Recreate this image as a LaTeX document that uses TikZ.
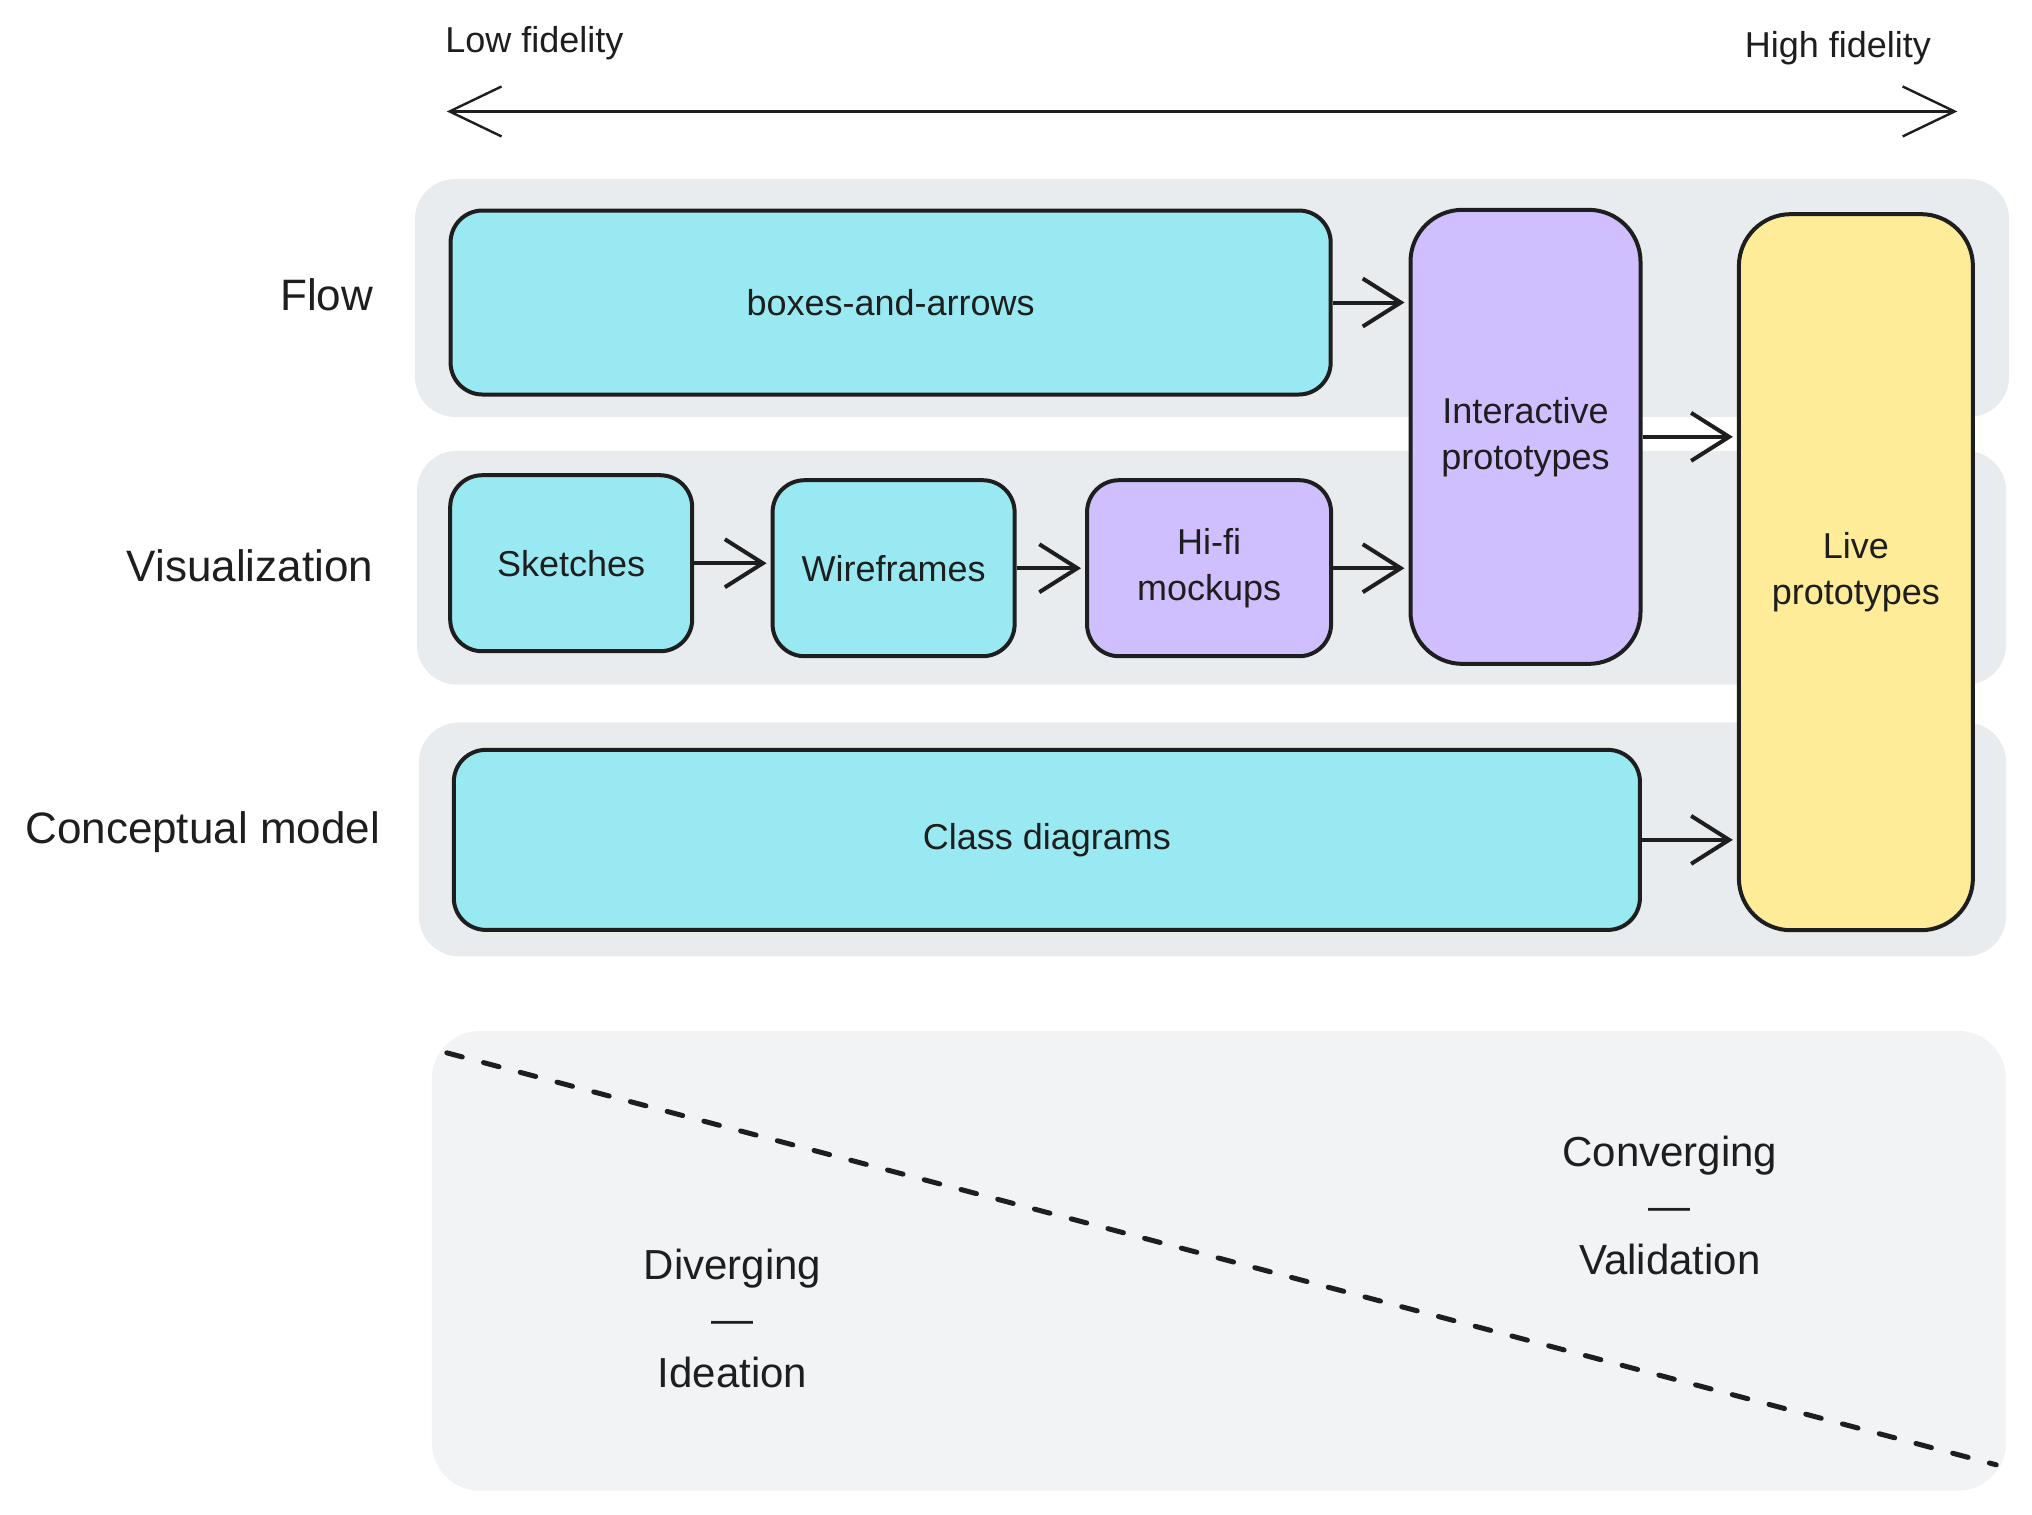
\documentclass[tikz,border=0pt]{standalone}
\usepackage{fontspec}
\setmainfont{Liberation Sans}
\usetikzlibrary{arrows.meta}
\definecolor{ink}{HTML}{1E1E1E}
\definecolor{cyanbox}{HTML}{99E9F2}
\definecolor{violetbox}{HTML}{D0BFFF}
\definecolor{yellowbox}{HTML}{FFEC99}
\definecolor{bandgray}{HTML}{E9ECEF}
\definecolor{areagray}{HTML}{F1F3F5}
\tikzset{
  stage/.style={draw=ink, line width=2pt, rounded corners=16pt, align=center,
    text=ink, inner sep=0pt, font=\fontsize{18}{23}\selectfont},
  rowlabel/.style={anchor=east, text=ink, font=\fontsize{22}{26}\selectfont},
  phase/.style={align=center, text=ink, font=\fontsize{21}{27}\selectfont},
  band/.style={fill=bandgray, rounded corners=20pt},
  flowarrow/.style={draw=ink, line width=2pt, shorten >=2pt,
    -{Straight Barb[length=19pt,width=24pt]}},
}
\begin{document}
\begin{tikzpicture}[x=0.4975pt,y=-0.4975pt]
  \useasboundingbox (0,0) rectangle (2042,1522);
  % background bands
  \fill[band] (417,180) rectangle (2019,419);
  \fill[band] (419,453) rectangle (2016,688);
  \fill[band] (421,726) rectangle (2016,961);
  \fill[areagray, rounded corners=24pt] (434,1036) rectangle (2016,1498);

  % fidelity axis
  \node[text=ink, font=\fontsize{18}{22}\selectfont] (low) at (537,43) {Low fidelity};
  \node[text=ink, font=\fontsize{18}{22}\selectfont] (high) at (1847,48) {High fidelity};
  \coordinate (lowend) at (449,112);
  \coordinate (highend) at (1967,112);
  \draw[ink, line width=1.2pt, {Straight Barb[length=26pt,width=25pt]}-{Straight Barb[length=26pt,width=25pt]}] (lowend) -- (highend);

  % row labels
  \foreach \x/\y/\name/\txt in {382/296/flow/Flow, 382/569/vis/Visualization, 389/836/concept/Conceptual model}
    \node[rowlabel] (\name) at (\x,\y) {\txt};

  % stages
  \node[stage, fill=cyanbox, minimum width=440pt, minimum height=92pt] (bna) at (895,304) {boxes-and-arrows};
  \node[stage, fill=violetbox, rounded corners=26pt, minimum width=115pt, minimum height=227pt] (inter) at (1533,439) {Interactive\\prototypes};
  \node[stage, fill=yellowbox, rounded corners=26pt, minimum width=117pt, minimum height=358pt] (live) at (1865,575) {Live\\prototypes};
  \node[stage, fill=cyanbox, minimum width=121pt, minimum height=88pt] (sketch) at (574,566) {Sketches};
  \node[stage, fill=cyanbox, minimum width=121pt, minimum height=88pt] (wire) at (898,571) {Wireframes};
  \node[stage, fill=violetbox, minimum width=122pt, minimum height=88pt] (hifi) at (1215,571) {Hi-fi\\mockups};
  \node[stage, fill=cyanbox, minimum width=593pt, minimum height=90pt] (class) at (1052,844) {Class diagrams};

  \foreach \a/\b in {bna/inter, sketch/wire, wire/hifi, hifi/inter, inter/live, class/live}
    \draw[flowarrow] (\a.east) -- (\a.east -| \b.west);

  % diverging / converging
  \coordinate (dashstart) at (449,1058);
  \coordinate (dashend) at (2006,1472);
  \draw[ink, line width=2.5pt, line cap=round, dash pattern=on 8pt off 11pt] (dashstart) -- (dashend);
  \node[phase] (div) at (736,1325) {Diverging\\—\\Ideation};
  \node[phase] (conv) at (1678,1211) {Converging\\—\\Validation};
\end{tikzpicture}
\end{document}
